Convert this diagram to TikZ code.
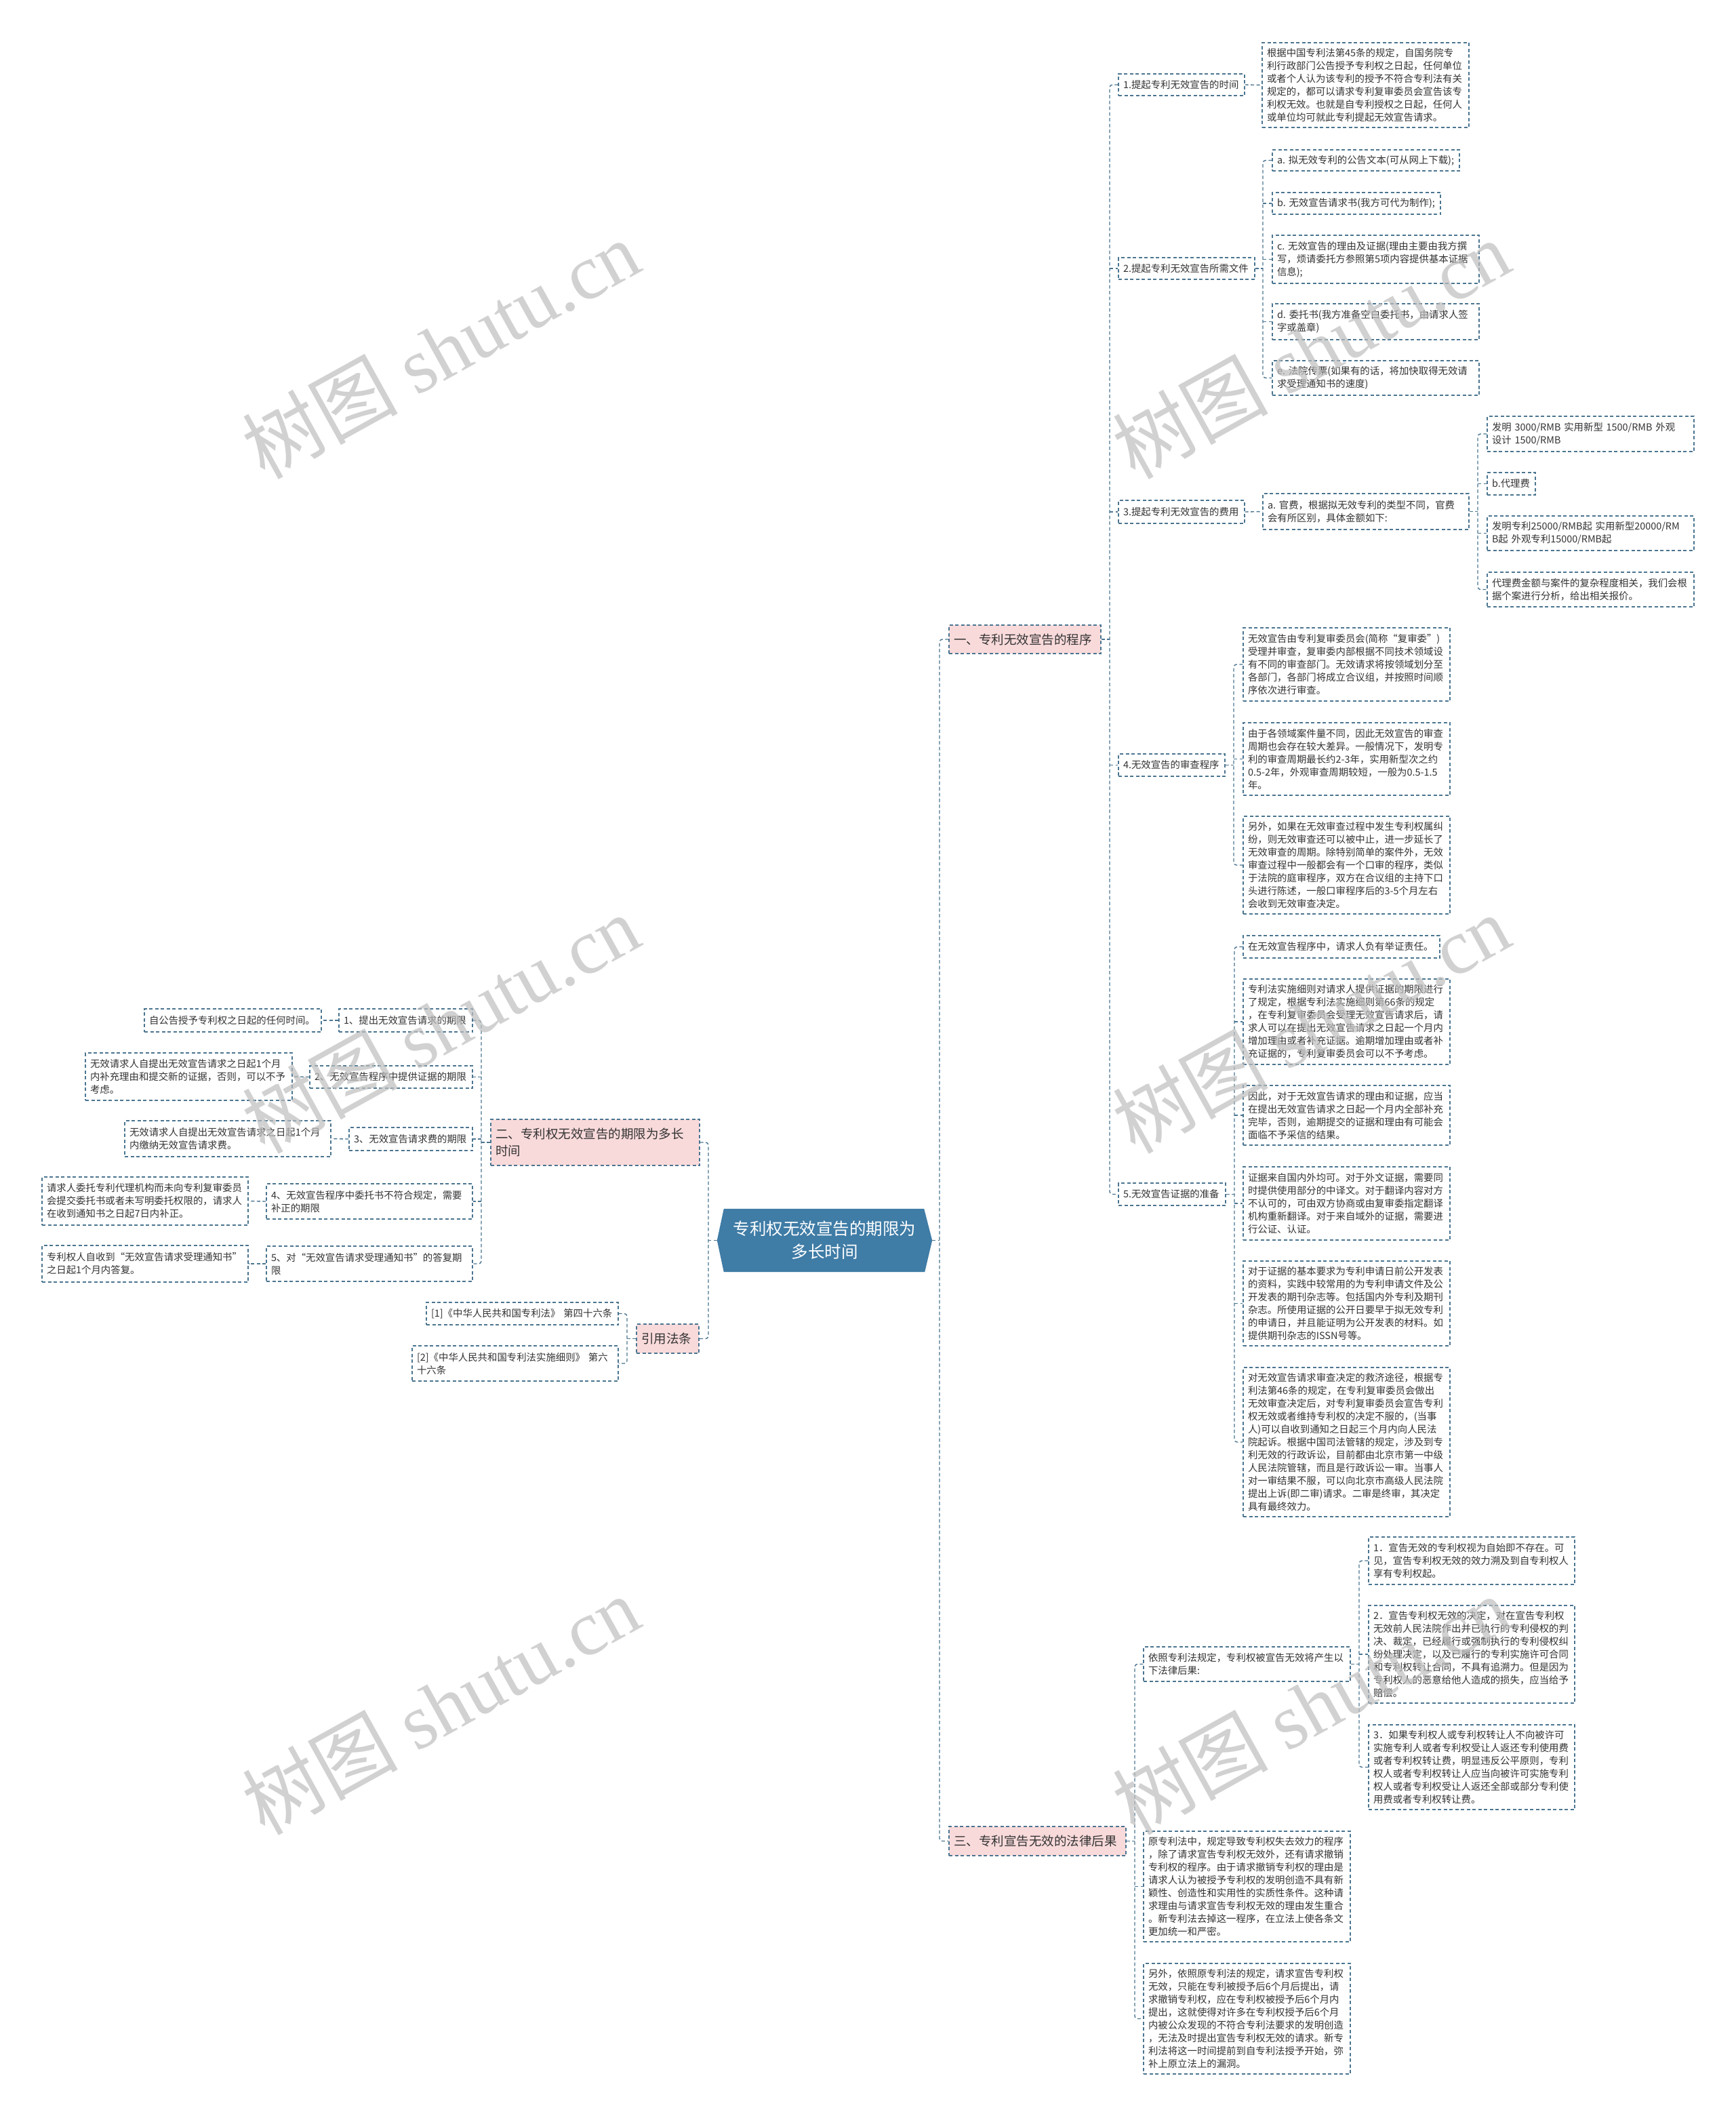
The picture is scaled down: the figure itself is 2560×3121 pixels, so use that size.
\documentclass[tikz,border=0pt]{standalone}
\usepackage{fontspec}
\setmainfont{Noto Sans CJK SC}
\newfontfamily\wmlat{Liberation Serif}
\usetikzlibrary{backgrounds,calc}
\definecolor{lc}{HTML}{4B7590}
\definecolor{tc}{HTML}{333333}
\definecolor{pinkf}{HTML}{F9DADB}
\definecolor{rootf}{HTML}{3F7CA6}
\definecolor{wm}{HTML}{BEBEBE}
\begin{document}
\begin{tikzpicture}[x=1pt,y=-1pt,
  box/.style={draw=lc, line width=1.4pt, dash pattern=on 5pt off 3.5pt, text=tc,
    inner xsep=7pt, inner ysep=3pt, align=left, font=\fontsize{14.4}{19}\selectfont},
  leaf/.style={box},
  br/.style={box, fill=pinkf, font=\fontsize{18.5}{25}\selectfont},
  conn/.style={draw=lc, line width=1.4pt, dash pattern=on 5pt off 3.5pt, rounded corners=4pt},
  wmark/.style={text=wm, opacity=0.7, rotate=29, font=\fontsize{115}{120}\selectfont}
]
\useasboundingbox (0,0) rectangle (2560,3121);

% ---------- root ----------
\node[minimum width=317pt, minimum height=93pt, text=white, align=center,
  font=\fontsize{24.5}{34}\selectfont] (root) at (1216.5,1829.5) {专利权无效宣告的期限为\\多长时间};
\begin{scope}[on background layer]
\fill[white] (0,0) rectangle (2560,3121);
\fill[rootf] ($(root.north west)+(10,0)$) -- ($(root.north east)+(-12,0)$) -- (root.east)
  -- ($(root.south east)+(-11,0)$) -- ($(root.south west)+(10,0)$) -- (root.west) -- cycle;
\end{scope}

% ---------- branches ----------
\node[br, minimum width=224pt, minimum height=42pt, text width=210pt] (b1) at (1512,943) {一、专利无效宣告的程序};
\node[br, minimum width=261pt, minimum height=43pt, text width=247pt] (b3) at (1530.5,2715.5) {三、专利宣告无效的法律后果};
\node[br, minimum width=308pt, minimum height=68pt, text width=294pt] (b2) at (878,1685) {二、专利权无效宣告的期限为多长\\时间};
\node[br, minimum width=92pt, minimum height=43pt, text width=78pt] (bref) at (985,1974.5) {引用法条};

% ---------- branch 1 ----------
\node[leaf, minimum width=186pt, minimum height=32pt, text width=172pt] (n1) at (1743,125) {1.提起专利无效宣告的时间};
\node[leaf, minimum width=305pt, minimum height=125pt, text width=291pt] (n1a) at (2014.5,125.5) {根据中国专利法第45条的规定，自国务院专\\利行政部门公告授予专利权之日起，任何单位\\或者个人认为该专利的授予不符合专利法有关\\规定的，都可以请求专利复审委员会宣告该专\\利权无效。也就是自专利授权之日起，任何人\\或单位均可就此专利提起无效宣告请求。};

\node[leaf, minimum width=201pt, minimum height=32pt, text width=187pt] (n2) at (1750.5,396) {2.提起专利无效宣告所需文件};
\node[leaf, minimum width=276pt, minimum height=31pt, text width=262pt] (n2a) at (2015,236.5) {a.~拟无效专利的公告文本(可从网上下载);};
\node[leaf, minimum width=248pt, minimum height=32pt, text width=234pt] (n2b) at (2001,300) {b.~无效宣告请求书(我方可代为制作);};
\node[leaf, minimum width=305pt, minimum height=71pt, text width=291pt] (n2c) at (2029.5,382.5) {c.~无效宣告的理由及证据(理由主要由我方撰\\写，烦请委托方参照第5项内容提供基本证据\\信息);};
\node[leaf, minimum width=305pt, minimum height=53pt, text width=291pt] (n2d) at (2029.5,474.5) {d.~委托书(我方准备空白委托书，由请求人签\\字或盖章)};
\node[leaf, minimum width=305pt, minimum height=51pt, text width=291pt] (n2e) at (2029.5,557.5) {e.~法院传票(如果有的话，将加快取得无效请\\求受理通知书的速度)};

\node[leaf, minimum width=186pt, minimum height=34pt, text width=172pt] (n3) at (1743,755) {3.提起专利无效宣告的费用};
\node[leaf, minimum width=304pt, minimum height=53pt, text width=290pt] (n3a) at (2015,754.5) {a.~官费，根据拟无效专利的类型不同，官费\\会有所区别，具体金额如下:};
\node[leaf, minimum width=305pt, minimum height=52pt, text width=291pt] (n3a1) at (2346.5,640) {发明~3000/RMB~实用新型~1500/RMB~外观\\设计~1500/RMB};
\node[leaf, minimum width=71pt, minimum height=33pt, text width=57pt] (n3a2) at (2229.5,713.5) {b.代理费};
\node[leaf, minimum width=305pt, minimum height=51pt, text width=291pt] (n3a3) at (2346.5,786.5) {发明专利25000/RMB起~实用新型20000/RM\\B起~外观专利15000/RMB起};
\node[leaf, minimum width=305pt, minimum height=51pt, text width=291pt] (n3a4) at (2346.5,869.5) {代理费金额与案件的复杂程度相关，我们会根\\据个案进行分析，给出相关报价。};

\node[leaf, minimum width=157pt, minimum height=33pt, text width=143pt] (n4) at (1728.5,1128.5) {4.无效宣告的审查程序};
\node[leaf, minimum width=305pt, minimum height=108pt, text width=291pt] (n4a) at (1986.5,980) {无效宣告由专利复审委员会(简称“复审委”)\\受理并审查，复审委内部根据不同技术领域设\\有不同的审查部门。无效请求将按领域划分至\\各部门，各部门将成立合议组，并按照时间顺\\序依次进行审查。};
\node[leaf, minimum width=305pt, minimum height=107pt, text width=291pt] (n4b) at (1986.5,1119.5) {由于各领域案件量不同，因此无效宣告的审查\\周期也会存在较大差异。一般情况下，发明专\\利的审查周期最长约2-3年，实用新型次之约\\0.5-2年，外观审查周期较短，一般为0.5-1.5\\年。};
\node[leaf, minimum width=305pt, minimum height=144pt, text width=291pt] (n4c) at (1986.5,1276) {另外，如果在无效审查过程中发生专利权属纠\\纷，则无效审查还可以被中止，进一步延长了\\无效审查的周期。除特别简单的案件外，无效\\审查过程中一般都会有一个口审的程序，类似\\于法院的庭审程序，双方在合议组的主持下口\\头进行陈述，一般口审程序后的3-5个月左右\\会收到无效审查决定。};

\node[leaf, minimum width=158pt, minimum height=33pt, text width=144pt] (n5) at (1729,1761.5) {5.无效宣告证据的准备};
\node[leaf, minimum width=290pt, minimum height=33pt, text width=276pt] (n5a) at (1979,1396.5) {在无效宣告程序中，请求人负有举证责任。};
\node[leaf, minimum width=305pt, minimum height=126pt, text width=291pt] (n5b) at (1986.5,1507) {专利法实施细则对请求人提供证据的期限进行\\了规定，根据专利法实施细则第66条的规定\\，在专利复审委员会受理无效宣告请求后，请\\求人可以在提出无效宣告请求之日起一个月内\\增加理由或者补充证据。逾期增加理由或者补\\充证据的，专利复审委员会可以不予考虑。};
\node[leaf, minimum width=305pt, minimum height=88pt, text width=291pt] (n5c) at (1986.5,1645) {因此，对于无效宣告请求的理由和证据，应当\\在提出无效宣告请求之日起一个月内全部补充\\完毕，否则，逾期提交的证据和理由有可能会\\面临不予采信的结果。};
\node[leaf, minimum width=305pt, minimum height=108pt, text width=291pt] (n5d) at (1986.5,1775) {证据来自国内外均可。对于外文证据，需要同\\时提供使用部分的中译文。对于翻译内容对方\\不认可的，可由双方协商或由复审委指定翻译\\机构重新翻译。对于来自域外的证据，需要进\\行公证、认证。};
\node[leaf, minimum width=305pt, minimum height=125pt, text width=291pt] (n5e) at (1986.5,1922.5) {对于证据的基本要求为专利申请日前公开发表\\的资料，实践中较常用的为专利申请文件及公\\开发表的期刊杂志等。包括国内外专利及期刊\\杂志。所使用证据的公开日要早于拟无效专利\\的申请日，并且能证明为公开发表的材料。如\\提供期刊杂志的ISSN号等。};
\node[leaf, minimum width=305pt, minimum height=220pt, text width=291pt] (n5f) at (1986.5,2127) {对无效宣告请求审查决定的救济途径，根据专\\利法第46条的规定，在专利复审委员会做出\\无效审查决定后，对专利复审委员会宣告专利\\权无效或者维持专利权的决定不服的，(当事\\人)可以自收到通知之日起三个月内向人民法\\院起诉。根据中国司法管辖的规定，涉及到专\\利无效的行政诉讼，目前都由北京市第一中级\\人民法院管辖，而且是行政诉讼一审。当事人\\对一审结果不服，可以向北京市高级人民法院\\提出上诉(即二审)请求。二审是终审，其决定\\具有最终效力。};

% ---------- branch 3 ----------
\node[leaf, minimum width=305pt, minimum height=51pt, text width=291pt] (n6a) at (1839.5,2454.5) {依照专利法规定，专利权被宣告无效将产生以\\下法律后果:};
\node[leaf, minimum width=304pt, minimum height=70pt, text width=290pt] (n6a1) at (2171,2302) {1．宣告无效的专利权视为自始即不存在。可\\见，宣告专利权无效的效力溯及到自专利权人\\享有专利权起。};
\node[leaf, minimum width=304pt, minimum height=144pt, text width=290pt] (n6a2) at (2171,2440) {2．宣告专利权无效的决定，对在宣告专利权\\无效前人民法院作出并已执行的专利侵权的判\\决、裁定，已经履行或强制执行的专利侵权纠\\纷处理决定，以及已履行的专利实施许可合同\\和专利权转让合同，不具有追溯力。但是因为\\专利权人的恶意给他人造成的损失，应当给予\\赔偿。};
\node[leaf, minimum width=304pt, minimum height=125pt, text width=290pt] (n6a3) at (2171,2606.5) {3．如果专利权人或专利权转让人不向被许可\\实施专利人或者专利权受让人返还专利使用费\\或者专利权转让费，明显违反公平原则，专利\\权人或者专利权转让人应当向被许可实施专利\\权人或者专利权受让人返还全部或部分专利使\\用费或者专利权转让费。};
\node[leaf, minimum width=305pt, minimum height=163pt, text width=291pt] (n6b) at (1839.5,2782.5) {原专利法中，规定导致专利权失去效力的程序\\，除了请求宣告专利权无效外，还有请求撤销\\专利权的程序。由于请求撤销专利权的理由是\\请求人认为被授予专利权的发明创造不具有新\\颖性、创造性和实用性的实质性条件。这种请\\求理由与请求宣告专利权无效的理由发生重合\\。新专利法去掉这一程序，在立法上使各条文\\更加统一和严密。};
\node[leaf, minimum width=305pt, minimum height=163pt, text width=291pt] (n6c) at (1839.5,2977.5) {另外，依照原专利法的规定，请求宣告专利权\\无效，只能在专利被授予后6个月后提出，请\\求撤销专利权，应在专利权被授予后6个月内\\提出，这就使得对许多在专利权授予后6个月\\内被公众发现的不符合专利法要求的发明创造\\，无法及时提出宣告专利权无效的请求。新专\\利法将这一时间提前到自专利法授予开始，弥\\补上原立法上的漏洞。};

% ---------- branch 2 (left) ----------
\node[leaf, minimum width=197pt, minimum height=34pt, text width=183pt] (L1) at (598.5,1505) {1、提出无效宣告请求的期限};
\node[leaf, minimum width=261pt, minimum height=34pt, text width=247pt] (L1a) at (343.5,1505) {自公告授予专利权之日起的任何时间。};
\node[leaf, minimum width=240pt, minimum height=33pt, text width=226pt] (L2) at (577,1588.5) {2、无效宣告程序中提供证据的期限};
\node[leaf, minimum width=305pt, minimum height=70pt, text width=291pt] (L2a) at (278.5,1588) {无效请求人自提出无效宣告请求之日起1个月\\内补充理由和提交新的证据，否则，可以不予\\考虑。};
\node[leaf, minimum width=182pt, minimum height=34pt, text width=168pt] (L3) at (606,1680) {3、无效宣告请求费的期限};
\node[leaf, minimum width=304pt, minimum height=53pt, text width=290pt] (L3a) at (336,1679.5) {无效请求人自提出无效宣告请求之日起1个月\\内缴纳无效宣告请求费。};
\node[leaf, minimum width=304pt, minimum height=52pt, text width=290pt] (L4) at (545,1772) {4、无效宣告程序中委托书不符合规定，需要\\补正的期限};
\node[leaf, minimum width=304pt, minimum height=71pt, text width=290pt] (L4a) at (214,1771.5) {请求人委托专利代理机构而未向专利复审委员\\会提交委托书或者未写明委托权限的，请求人\\在收到通知书之日起7日内补正。};
\node[leaf, minimum width=304pt, minimum height=52pt, text width=290pt] (L5) at (545,1864) {5、对“无效宣告请求受理通知书”的答复期\\限};
\node[leaf, minimum width=304pt, minimum height=54pt, text width=290pt] (L5a) at (214,1864) {专利权人自收到“无效宣告请求受理通知书”\\之日起1个月内答复。};

\node[leaf, minimum width=283pt, minimum height=33pt, text width=269pt] (R1) at (770.5,1937.5) {[1]《中华人民共和国专利法》~第四十六条};
\node[leaf, minimum width=304pt, minimum height=52pt, text width=290pt] (R2) at (760,2011) {[2]《中华人民共和国专利法实施细则》~第六\\十六条};

% ---------- trunk coordinates ----------
\coordinate (tR) at (1386,1829.5);
\coordinate (tL) at (1045,1829.5);
\coordinate (tb1) at (1637,943);
\coordinate (tn2) at (1863,396);
\coordinate (tn3a) at (2180,754.5);
\coordinate (tn4) at (1820,1128.5);
\coordinate (tn5) at (1821,1761.5);
\coordinate (tb3) at (1674,2715.5);
\coordinate (tn6a) at (2005,2454.5);
\coordinate (tb2) at (710,1685);
\coordinate (tref) at (925,1974.5);

% ---------- connectors ----------
% root right
\draw[conn] (root.east) -- (tR);
\draw[conn] (b1.west) -| (tR) |- (b3.west);
% root left
\draw[conn] (root.west) -- (tL);
\draw[conn] (b2.east) -| (tL) |- (bref.east);
% branch 1
\draw[conn] (b1.east) -- (tb1);
\draw[conn] (n1.west) -| (tb1) |- (n5.west);
\draw[conn] (tb1 |- n2.west) -- (n2.west);
\draw[conn] (tb1 |- n3.west) -- (n3.west);
\draw[conn] (tb1 |- n4.west) -- (n4.west);
\draw[conn] (n1.east) -- (n1a.west);
% node 2
\draw[conn] (n2.east) -- (tn2);
\draw[conn] (n2a.west) -| (tn2) |- (n2e.west);
\draw[conn] (tn2 |- n2b.west) -- (n2b.west);
\draw[conn] (tn2 |- n2c.west) -- (n2c.west);
\draw[conn] (tn2 |- n2d.west) -- (n2d.west);
% node 3
\draw[conn] (n3.east) -- (n3a.west);
\draw[conn] (n3a.east) -- (tn3a);
\draw[conn] (n3a1.west) -| (tn3a) |- (n3a4.west);
\draw[conn] (tn3a |- n3a2.west) -- (n3a2.west);
\draw[conn] (tn3a |- n3a3.west) -- (n3a3.west);
% node 4
\draw[conn] (n4.east) -- (tn4);
\draw[conn] (n4a.west) -| (tn4) |- (n4c.west);
\draw[conn] (tn4 |- n4b.west) -- (n4b.west);
% node 5
\draw[conn] (n5.east) -- (tn5);
\draw[conn] (n5a.west) -| (tn5) |- (n5f.west);
\draw[conn] (tn5 |- n5b.west) -- (n5b.west);
\draw[conn] (tn5 |- n5c.west) -- (n5c.west);
\draw[conn] (tn5 |- n5d.west) -- (n5d.west);
\draw[conn] (tn5 |- n5e.west) -- (n5e.west);
% branch 3
\draw[conn] (b3.east) -- (tb3);
\draw[conn] (n6a.west) -| (tb3) |- (n6c.west);
\draw[conn] (tb3 |- n6b.west) -- (n6b.west);
\draw[conn] (n6a.east) -- (tn6a);
\draw[conn] (n6a1.west) -| (tn6a) |- (n6a3.west);
\draw[conn] (tn6a |- n6a2.west) -- (n6a2.west);
% branch 2
\draw[conn] (b2.west) -- (tb2);
\draw[conn] (L1.east) -| (tb2) |- (L5.east);
\draw[conn] (tb2 |- L2.east) -- (L2.east);
\draw[conn] (tb2 |- L3.east) -- (L3.east);
\draw[conn] (tb2 |- L4.east) -- (L4.east);
\draw[conn] (L1.west) -- (L1a.east);
\draw[conn] (L2.west) -- (L2a.east);
\draw[conn] (L3.west) -- (L3a.east);
\draw[conn] (L4.west) -- (L4a.east);
\draw[conn] (L5.west) -- (L5a.east);
% references
\draw[conn] (bref.west) -- (tref);
\draw[conn] (R1.east) -| (tref) |- (R2.east);

% ---------- watermark ----------
\node[wmark] (wm1) at (650,515) {树图 {\wmlat shutu.cn}};
\node[wmark] (wm2) at (1934,515) {树图 {\wmlat shutu.cn}};
\node[wmark] (wm3) at (650,1510) {树图 {\wmlat shutu.cn}};
\node[wmark] (wm4) at (1934,1510) {树图 {\wmlat shutu.cn}};
\node[wmark] (wm5) at (650,2515) {树图 {\wmlat shutu.cn}};
\node[wmark] (wm6) at (1934,2515) {树图 {\wmlat shutu.cn}};
\end{tikzpicture}
\end{document}
